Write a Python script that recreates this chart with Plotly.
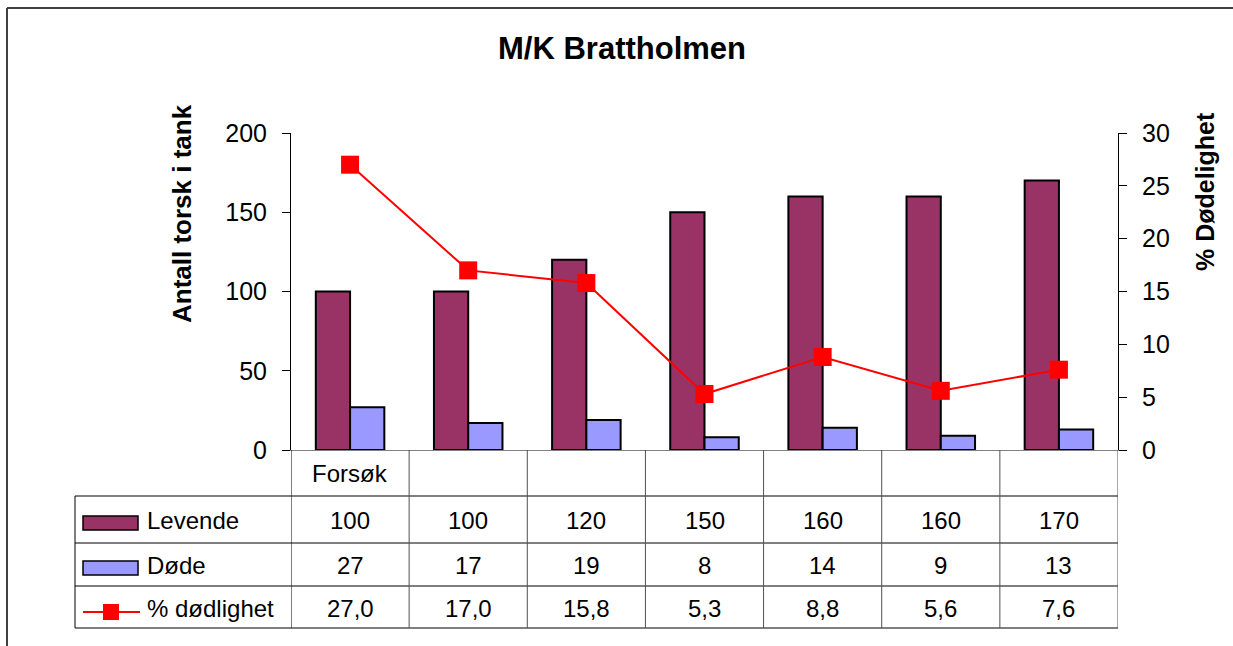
import plotly.graph_objects as go

# data
categories = ["Forsøk", "", "", "", "", "", ""]
levende = [100, 100, 120, 150, 160, 160, 170]
dode = [27, 17, 19, 8, 14, 9, 13]
dodlighet = [27.0, 17.0, 15.8, 5.3, 8.8, 5.6, 7.6]
series_names = ["Levende", "Døde", "% dødlighet"]

W, H = 1233, 646
L, R, T, B = 291, 115, 133, 196
PW, PH = W - L - R, H - T - B
FONT = "Liberation Sans, Arial, sans-serif"


# pixel -> paper coords (for the decoration only)
def xp(px):
    return (px - L) / PW


def yp(py):
    return (H - B - py) / PH


xs = list(range(len(categories)))

fig = go.Figure()
fig.add_trace(go.Bar(x=xs, y=levende, name=series_names[0], marker_color="#993366",
                     marker_line=dict(color="black", width=2)))
fig.add_trace(go.Bar(x=xs, y=dode, name=series_names[1], marker_color="#9999FF",
                     marker_line=dict(color="black", width=2)))
fig.add_trace(go.Scatter(x=xs, y=dodlighet, name=series_names[2], yaxis="y2",
                         mode="lines+markers", line=dict(color="#FF0000", width=2),
                         marker=dict(symbol="square", size=18, color="#FF0000")))

axis_common = dict(showgrid=False, zeroline=False, showline=True, linecolor="black", linewidth=1,
                   ticks="outside", ticklen=8, tickcolor="black", tickwidth=1,
                   tickfont=dict(family=FONT, size=25, color="black"), ticklabelstandoff=10)

fig.update_layout(
    width=W, height=H, margin=dict(l=L, r=R, t=T, b=B),
    paper_bgcolor="white", plot_bgcolor="white",
    showlegend=False, barmode="group", bargap=0.42, bargroupgap=0,
    title=dict(text="<b>M/K Brattholmen</b>", x=622 / W, xanchor="center", xref="container",
               y=1 - 48 / H, yanchor="middle", yref="container",
               font=dict(family=FONT, size=31, color="black")),
    xaxis=dict(range=[-0.5, len(categories) - 0.5], showticklabels=False, showgrid=False,
               zeroline=False, showline=True, linecolor="#808080", linewidth=1, ticks=""),
    yaxis=dict(range=[0, 200], dtick=50, **axis_common),
    yaxis2=dict(range=[0, 30], dtick=5, overlaying="y", side="right", anchor="x", **axis_common),
    yaxis3=dict(range=[0, 200], dtick=50, overlaying="y", side="left", anchor="x",
                showticklabels=False, showgrid=False, zeroline=False, showline=False,
                ticks="inside", ticklen=8, tickcolor="black"),
    yaxis4=dict(range=[0, 30], dtick=5, overlaying="y", side="right", anchor="x",
                showticklabels=False, showgrid=False, zeroline=False, showline=False,
                ticks="inside", ticklen=8, tickcolor="black"),
)

shapes = []
annotations = []

# outer chart border (top and left)
shapes.append(dict(type="line", xref="paper", yref="paper", x0=xp(7), x1=xp(W), y0=yp(8), y1=yp(8),
                   line=dict(color="#404040", width=2)))
shapes.append(dict(type="line", xref="paper", yref="paper", x0=xp(7), x1=xp(7), y0=yp(8), y1=yp(H),
                   line=dict(color="#404040", width=2)))

# data table grid
for py in [496, 543, 586, 628]:
    shapes.append(dict(type="line", xref="paper", yref="paper", x0=xp(75), x1=1, y0=yp(py), y1=yp(py),
                       line=dict(color="black", width=1)))
shapes.append(dict(type="line", xref="paper", yref="paper", x0=xp(75), x1=xp(75),
                   y0=yp(496), y1=yp(628), line=dict(color="black", width=1)))
for i in range(len(categories) + 1):
    shapes.append(dict(type="line", xref="x", yref="paper", x0=i - 0.5, x1=i - 0.5,
                       y0=0, y1=yp(628),
                       line=dict(color="black" if i == 0 else "#505050", width=1)))

# legend keys in the table
shapes.append(dict(type="rect", xref="paper", yref="paper", x0=xp(83), x1=xp(138), y0=yp(516), y1=yp(530),
                   fillcolor="#993366", line=dict(color="black", width=1.5)))
shapes.append(dict(type="rect", xref="paper", yref="paper", x0=xp(83), x1=xp(138), y0=yp(561), y1=yp(575),
                   fillcolor="#9999FF", line=dict(color="black", width=1.5)))
shapes.append(dict(type="line", xref="paper", yref="paper", x0=xp(83), x1=xp(140), y0=yp(612), y1=yp(612),
                   line=dict(color="#FF0000", width=2)))
shapes.append(dict(type="rect", xref="paper", yref="paper", x0=xp(103), x1=xp(119), y0=yp(604), y1=yp(620),
                   fillcolor="#FF0000", line=dict(color="#FF0000", width=0)))

tfont = dict(family=FONT, size=24, color="black")
row_centers = [473, 520, 565, 608]
for name, py in zip(series_names, row_centers[1:]):
    annotations.append(dict(text=name, xref="paper", yref="paper", x=xp(145), y=yp(py),
                            xanchor="left", yanchor="middle", showarrow=False, font=tfont))

rows = [categories,
        [str(v) for v in levende],
        [str(v) for v in dode],
        [f"{v:.1f}".replace(".", ",") for v in dodlighet]]
for vals, py in zip(rows, row_centers):
    for i, v in enumerate(vals):
        if v:
            annotations.append(dict(text=v, xref="x", yref="paper", x=xs[i], y=yp(py),
                                    xanchor="center", yanchor="middle", showarrow=False, font=tfont))

# axis titles
annotations.append(dict(text="<b>Antall torsk i tank</b>", xref="paper", yref="paper", x=xp(182), y=yp(214),
                        textangle=-90, showarrow=False, xanchor="center", yanchor="middle",
                        font=dict(family=FONT, size=26, color="black")))
annotations.append(dict(text="<b>% Dødelighet</b>", xref="paper", yref="paper", x=xp(1205), y=yp(192),
                        textangle=-90, showarrow=False, xanchor="center", yanchor="middle",
                        font=dict(family=FONT, size=25, color="black")))

fig.update_layout(shapes=shapes, annotations=annotations)

# the page body has a default 8px margin; drop it so the figure sits at the window origin
fig.write_html("out.html", config={"displayModeBar": False},
               post_script="document.body.style.margin='0';")
